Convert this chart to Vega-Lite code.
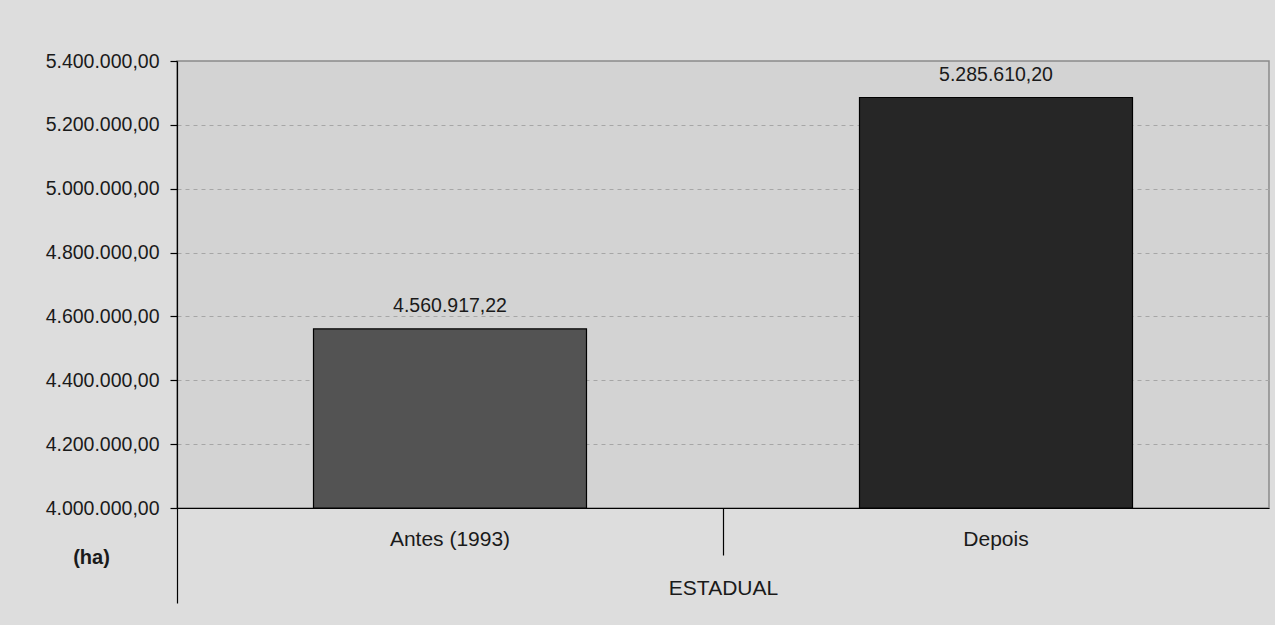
{
  "$schema": "https://vega.github.io/schema/vega-lite/v6.json",
  "width": 1092,
  "height": 447,
  "autosize": {"type": "none"},
  "padding": {"left": 177, "top": 61, "right": 6, "bottom": 117},
  "background": "#dddddd",
  "config": {
    "locale": {"number": {"decimal": ",", "thousands": ".", "grouping": [3], "currency": ["R$", ""]}},
    "view": {"fill": "#d3d3d3", "stroke": "#8a8a8a", "strokeWidth": 1.5},
    "font": "Liberation Sans"
  },
  "data": {"values": [
    {"periodo": "Antes (1993)", "area": 4560917.22},
    {"periodo": "Depois", "area": 5285610.20}
  ]},
  "encoding": {
    "x": {
      "field": "periodo", "type": "nominal", "sort": null,
      "scale": {"paddingInner": 0, "paddingOuter": 0},
      "axis": {
        "title": "ESTADUAL", "titleFont": "Liberation Sans", "titleFontSize": 21, "titleFontWeight": "normal", "titleColor": "#1a1a1a",
        "titleY": 80, "titleBaseline": "middle",
        "labelAngle": 0, "labelFont": "Liberation Sans", "labelFontSize": 21, "labelColor": "#1a1a1a",
        "labelBaseline": "middle",
        "labelPadding": {"condition": {"test": "datum.value === 'Antes (1993)'", "value": -64}, "value": -16},
        "domainColor": "#000000", "domainWidth": 1.2,
        "ticks": true, "bandPosition": 0, "tickColor": "#000000", "tickWidth": 1.2,
        "tickSize": {"condition": {"test": "datum.value === 'Antes (1993)'", "value": 95}, "value": 47}
      }
    },
    "y": {
      "field": "area", "type": "quantitative",
      "scale": {"domain": [4000000, 5400000], "zero": false, "nice": false},
      "axis": {
        "values": [4000000, 4200000, 4400000, 4600000, 4800000, 5000000, 5200000, 5400000],
        "format": ",.2f",
        "title": "(ha)", "titleAngle": 0, "titleX": -86, "titleY": 496, "titleAlign": "center", "titleBaseline": "middle",
        "titleFont": "Liberation Sans", "titleFontSize": 20, "titleFontWeight": "bold", "titleColor": "#1a1a1a",
        "labelFont": "Liberation Sans", "labelFontSize": 19.5, "labelColor": "#1a1a1a", "labelPadding": 11,
        "domainColor": "#000000", "domainWidth": 1.2, "tickColor": "#000000", "tickSize": 7, "tickWidth": 1.2,
        "grid": true, "gridColor": "#a6a6a6", "gridDash": [4, 4], "gridWidth": 1,
        "gridOpacity": {"condition": {"test": "datum.value >= 5400000 || datum.value <= 4000000", "value": 0}, "value": 1}
      }
    }
  },
  "layer": [
    {
      "mark": {"type": "bar", "stroke": "#000000", "strokeWidth": 1.2, "width": {"band": 0.5}},
      "encoding": {
        "y2": {"datum": 4000000},
        "color": {"field": "periodo", "type": "nominal", "scale": {"domain": ["Antes (1993)", "Depois"], "range": ["#535353", "#262626"]}, "legend": null}
      }
    },
    {
      "mark": {"type": "text", "baseline": "alphabetic", "dy": -17, "fontSize": 19.5, "font": "Liberation Sans", "color": "#1a1a1a"},
      "encoding": {
        "text": {"field": "area", "type": "quantitative", "format": ",.2f"}
      }
    }
  ]
}
